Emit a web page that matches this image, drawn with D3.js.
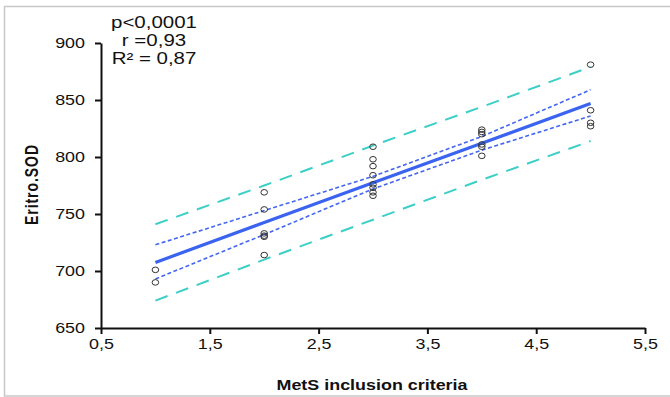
<!DOCTYPE html>
<html>
<head>
<meta charset="utf-8">
<script src="https://cdn.jsdelivr.net/npm/d3@7"></script>
<style>
  body { margin: 0; background: #fff; }
  svg text { font-family: "Liberation Sans", Arial, sans-serif; }
</style>
</head>
<body>
<div id="chart"></div>
<script>
// points
const pointsX = [1, 1, 2, 2, 2, 2, 2, 2, 3, 3, 3, 3, 3, 3, 3, 3, 4, 4, 4, 4, 4, 4, 5, 5, 5, 5];
const pointsY = [701, 690, 769, 754, 733, 731, 730, 714, 809, 798, 792, 784, 776, 773, 769, 766, 824, 822, 820, 811, 809, 801, 881, 841, 830, 827];

// fit line and bands, at x = 1..5
const bandX = [1, 2, 3, 4, 5];
const fitY = [707.5, 742.5, 777.5, 812, 847];
const ciUpper = [723, 753, 783, 818, 859];
const ciLower = [693, 732, 772, 806, 836];
const piUpper = [741, 775, 810, 844, 879];
const piLower = [674, 710, 745, 780, 814];

const xTicks = [0.5, 1.5, 2.5, 3.5, 4.5, 5.5];
const yTicks = [650, 700, 750, 800, 850, 900];
const statsLines = ["p<0,0001", "r =0,93", "R\u00b2 = 0,87"];

// the original picture is a bit stretched sideways
const SX = 1.28;

function init() {
    const W = 670, H = 397;
    const margin = { top: 43, right: 25, bottom: 69, left: 101 },
        width = W - margin.left - margin.right,
        height = H - margin.top - margin.bottom;

    const root = d3.select("#chart")
        .append("svg")
        .attr("width", W)
        .attr("height", H);

    // outer frame
    root.append("rect")
        .attr("x", 4.5).attr("y", 6.5)
        .attr("width", W).attr("height", H - 7.5)
        .attr("fill", "none")
        .attr("stroke", "#c8c8c8")
        .attr("stroke-width", 1.5);

    const svg = root.append("g")
        .attr("transform", `translate(${margin.left},${margin.top})`);

    const x = d3.scaleLinear().domain([0.5, 5.5]).range([0, width]);
    const y = d3.scaleLinear().domain([650, 900]).range([height, 0]);

    const xAxis = svg.append("g")
        .attr("transform", `translate(0,${height})`)
        .call(d3.axisBottom(x).tickValues(xTicks).tickFormat(d => d3.format(".1f")(d).replace(".", ",")).tickSize(6).tickSizeOuter(0));
    xAxis.select(".domain").attr("stroke", "#111").attr("stroke-width", 2);
    xAxis.selectAll(".tick line").attr("stroke", "#111").attr("stroke-width", 2);
    xAxis.selectAll("text")
        .attr("y", 21)
        .attr("dy", 0)
        .attr("font-size", 14)
        .attr("fill", "#111")
        .attr("transform", `scale(${SX},1)`)
        .style("font-family", "Liberation Sans, Arial, sans-serif");

    const yAxis = svg.append("g")
        .call(d3.axisLeft(y).tickValues(yTicks).tickFormat(d => String(d)).tickSize(6).tickSizeOuter(0));
    yAxis.select(".domain").attr("stroke", "#111").attr("stroke-width", 2);
    yAxis.selectAll(".tick line").attr("stroke", "#111").attr("stroke-width", 2);
    yAxis.selectAll("text")
        .attr("x", -16 / SX)
        .attr("font-size", 14)
        .attr("fill", "#111")
        .attr("transform", `scale(${SX},1)`)
        .style("font-family", "Liberation Sans, Arial, sans-serif");

    const line = (ys) => d3.line()
        .x((d, i) => x(bandX[i]))
        .y(d => y(d))(ys);

    // prediction band
    [piUpper, piLower].forEach(arr => {
        svg.append("path")
            .attr("d", line(arr))
            .attr("fill", "none")
            .attr("stroke", "#3ccfc8")
            .attr("stroke-width", 2)
            .attr("stroke-dasharray", "13,9");
    });

    // confidence band
    [ciUpper, ciLower].forEach(arr => {
        svg.append("path")
            .attr("d", line(arr))
            .attr("fill", "none")
            .attr("stroke", "#4466f0")
            .attr("stroke-width", 1.6)
            .attr("stroke-dasharray", "4,2.5");
    });

    // fit line
    svg.append("path")
        .attr("d", line(fitY))
        .attr("fill", "none")
        .attr("stroke", "#3a63f0")
        .attr("stroke-width", 3.2);

    // points
    svg.selectAll(".pt")
        .data(pointsX.map((v, i) => ({ x: v, y: pointsY[i] })))
        .enter()
        .append("ellipse")
        .attr("class", "pt")
        .attr("cx", d => x(d.x))
        .attr("cy", d => y(d.y))
        .attr("rx", 3.3)
        .attr("ry", 2.8)
        .attr("fill", "none")
        .attr("stroke", "#333")
        .attr("stroke-width", 1);

    // stats text
    root.selectAll(".stat")
        .data(statsLines)
        .enter()
        .append("text")
        .attr("class", "stat")
        .attr("transform", (d, i) => `translate(154,${27.5 + i * 18}) scale(${SX},1)`)
        .attr("text-anchor", "middle")
        .attr("font-size", 16)
        .attr("fill", "#111")
        .text(d => d);

    // axis titles
    root.append("text")
        .attr("transform", `translate(372,390) scale(${SX},1)`)
        .attr("text-anchor", "middle")
        .attr("font-size", 14)
        .attr("font-weight", "bold")
        .attr("fill", "#111")
        .text("MetS inclusion criteria");

    root.append("text")
        .attr("transform", `translate(38,185) scale(${SX},1) rotate(-90)`)
        .attr("text-anchor", "middle")
        .attr("font-size", 14)
        .attr("font-weight", "bold")
        .attr("fill", "#111")
        .attr("textLength", 80)
        .text("Eritro.SOD");
}

window.onload = init;
</script>
</body>
</html>
